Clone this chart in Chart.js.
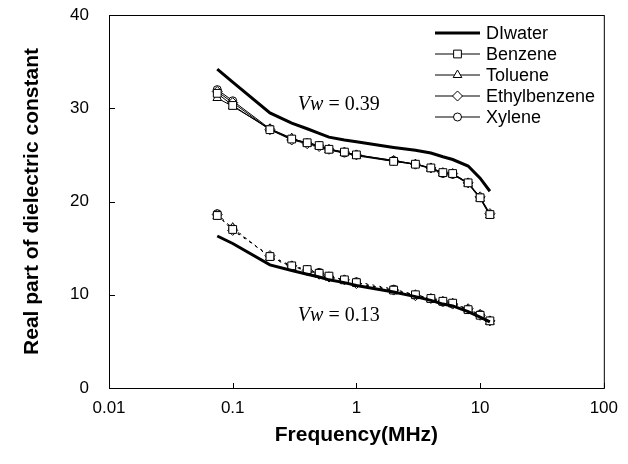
<!DOCTYPE html>
<html>
<head>
<meta charset="utf-8">
<script src="https://cdn.jsdelivr.net/npm/chart.js@4/dist/chart.umd.min.js"></script>
<style>
  body { margin: 0; background: #fff; }
  #wrap { width: 628px; height: 464px; }
</style>
</head>
<body>
<div id="wrap"><canvas id="dielChart" width="628" height="464"></canvas></div>
<script>
// frequency in MHz
const freq = [0.075, 0.1, 0.2, 0.3, 0.4, 0.5, 0.6, 0.8, 1, 2, 3, 4, 5, 6, 8, 10, 12];
const xTicks = [0.01, 0.1, 1, 10, 100];
const yTicks = [0, 10, 20, 30, 40];
const seriesNames = ["DIwater", "Benzene", "Toluene", "Ethylbenzene", "Xylene"];

// Vw = 0.39
const diUpper = [34.2, 32.8, 29.5, 28.4, 27.8, 27.3, 26.9, 26.6, 26.4, 25.8, 25.5, 25.2, 24.8, 24.5, 23.8, 22.5, 21.1];
const benzeneUpper = [31.6, 30.3, 27.7, 26.7, 26.3, 26.0, 25.6, 25.3, 25.0, 24.3, 24.0, 23.6, 23.1, 23.0, 22.0, 20.4, 18.6];
const tolueneUpper = [31.1, 30.2, 27.8, 26.8, 26.2, 25.9, 25.5, 25.2, 24.9, 24.3, 24.0, 23.5, 23.0, 22.9, 21.9, 20.3, 18.5];
const ethylUpper = [31.8, 30.6, 27.7, 26.6, 26.2, 25.9, 25.6, 25.3, 25.0, 24.4, 24.0, 23.6, 23.1, 23.0, 22.0, 20.5, 18.7];
const xyleneUpper = [32.0, 30.8, 27.8, 26.7, 26.3, 26.0, 25.6, 25.2, 25.0, 24.4, 24.0, 23.6, 23.0, 22.9, 22.0, 20.4, 18.6];

// Vw = 0.13
const diLower = [16.3, 15.5, 13.2, 12.6, 12.2, 11.9, 11.6, 11.3, 11.0, 10.3, 9.8, 9.4, 9.0, 8.8, 8.2, 7.6, 7.1];
const benzeneLower = [18.5, 17.0, 14.1, 13.1, 12.7, 12.3, 12.0, 11.6, 11.3, 10.5, 10.0, 9.6, 9.3, 9.1, 8.4, 7.8, 7.2];
const tolueneLower = [18.4, 17.2, 14.0, 13.0, 12.6, 12.3, 11.9, 11.5, 11.3, 10.4, 10.0, 9.5, 9.2, 9.1, 8.4, 7.9, 7.1];
const ethylLower = [18.6, 16.9, 14.2, 13.1, 12.6, 12.2, 11.9, 11.6, 11.2, 10.5, 9.9, 9.6, 9.3, 9.0, 8.5, 7.8, 7.2];
const xyleneLower = [18.7, 17.1, 14.1, 13.0, 12.7, 12.4, 12.0, 11.6, 11.4, 10.6, 10.0, 9.6, 9.2, 9.1, 8.4, 7.9, 7.2];

const markers = [false, "rect", "triangle", "rectRot", "circle"];
const markerSize = [0, 5.5, 5, 5, 4];
const SANS = "'Liberation Sans', Arial, sans-serif";
const SERIF = "'Liberation Serif', 'Times New Roman', serif";

function pts(vals) {
  return freq.map((f, i) => ({ x: f, y: vals[i] }));
}

function makeSet(idx, vals, dashed) {
  const isWater = idx === 0;
  return {
    label: seriesNames[idx],
    data: pts(vals),
    borderColor: "#000",
    borderWidth: isWater ? 3 : 1,
    borderDash: dashed && !isWater ? [2, 5] : [],
    pointStyle: markers[idx],
    pointRadius: isWater ? 0 : markerSize[idx],
    pointBackgroundColor: "#fff",
    pointBorderColor: "#000",
    pointBorderWidth: 1,
    tension: 0,
    fill: false,
  };
}

function drawMarker(ctx, style, r, x, y) {
  ctx.beginPath();
  if (style === "rect") {
    const s = r * Math.SQRT1_2;
    ctx.rect(x - s, y - s, 2 * s, 2 * s);
  } else if (style === "triangle") {
    ctx.moveTo(x, y - r);
    ctx.lineTo(x + r * 0.866, y + r * 0.5);
    ctx.lineTo(x - r * 0.866, y + r * 0.5);
    ctx.closePath();
  } else if (style === "rectRot") {
    ctx.moveTo(x, y - r);
    ctx.lineTo(x + r, y);
    ctx.lineTo(x, y + r);
    ctx.lineTo(x - r, y);
    ctx.closePath();
  } else {
    ctx.arc(x, y, r, 0, Math.PI * 2);
  }
  ctx.fillStyle = "#fff";
  ctx.fill();
  ctx.strokeStyle = "#000";
  ctx.lineWidth = 1;
  ctx.stroke();
}

const framePlugin = {
  id: "frame",
  afterDraw(chart) {
    const ctx = chart.ctx;
    const a = chart.chartArea;
    const xs = chart.scales.x;
    const ys = chart.scales.y;
    ctx.save();
    ctx.strokeStyle = "#000";
    ctx.lineWidth = 1;
    ctx.strokeRect(a.left + 0.5, a.top + 0.5, a.right - a.left, a.bottom - a.top);
    // inward ticks
    ctx.beginPath();
    xTicks.forEach(v => {
      const px = Math.round(xs.getPixelForValue(v)) + 0.5;
      ctx.moveTo(px, a.bottom);
      ctx.lineTo(px, a.bottom - 5);
    });
    yTicks.forEach(v => {
      const py = Math.round(ys.getPixelForValue(v)) + 0.5;
      ctx.moveTo(a.left, py);
      ctx.lineTo(a.left + 6, py);
    });
    ctx.stroke();

    // Vw labels
    const labelX = xs.getPixelForValue(0.72);
    [[30.4, "0.39"], [7.7, "0.13"]].forEach(([yv, txt]) => {
      const py = ys.getPixelForValue(yv);
      ctx.font = "italic 20px " + SERIF;
      const w1 = ctx.measureText("Vw").width;
      ctx.font = "20px " + SERIF;
      const rest = " = " + txt;
      const w2 = ctx.measureText(rest).width;
      const x0 = labelX - (w1 + w2) / 2;
      ctx.fillStyle = "#000";
      ctx.textBaseline = "middle";
      ctx.textAlign = "left";
      ctx.font = "italic 20px " + SERIF;
      ctx.fillText("Vw", x0, py);
      ctx.font = "20px " + SERIF;
      ctx.fillText(rest, x0 + w1, py);
    });

    // legend
    const lx0 = 435, lx1 = 480, tx = 486;
    let ly = 33;
    ctx.font = "18px " + SANS;
    seriesNames.forEach((name, i) => {
      ctx.beginPath();
      ctx.strokeStyle = "#000";
      ctx.lineWidth = i === 0 ? 3 : 1;
      ctx.moveTo(lx0, ly);
      ctx.lineTo(lx1, ly);
      ctx.stroke();
      if (markers[i]) drawMarker(ctx, markers[i], markerSize[i], (lx0 + lx1) / 2, ly);
      ctx.fillStyle = "#000";
      ctx.textBaseline = "middle";
      ctx.textAlign = "left";
      ctx.fillText(name, tx, ly + 1);
      ly += 21;
    });
    ctx.restore();
  },
};

function initChart() {
  const ctx = document.getElementById("dielChart").getContext("2d");
  const upperVals = [diUpper, benzeneUpper, tolueneUpper, ethylUpper, xyleneUpper];
  const lowerVals = [diLower, benzeneLower, tolueneLower, ethylLower, xyleneLower];
  const datasets = [];
  upperVals.forEach((v, i) => datasets.push(makeSet(i, v, false)));
  lowerVals.forEach((v, i) => datasets.push(makeSet(i, v, true)));

  new Chart(ctx, {
    type: "line",
    data: { datasets },
    options: {
      responsive: false,
      animation: false,
      layout: { padding: { left: 0, top: 15, right: 23, bottom: 0 } },
      plugins: {
        legend: { display: false },
        tooltip: { enabled: false },
      },
      scales: {
        x: {
          type: "logarithmic",
          min: 0.01,
          max: 100,
          afterBuildTicks: s => { s.ticks = xTicks.map(v => ({ value: v })); },
          afterFit: s => { s.height = 76; },
          grid: { display: false, drawTicks: false },
          border: { display: false },
          ticks: {
            color: "#000",
            padding: 10,
            maxRotation: 0,
            autoSkip: false,
            font: { family: SANS, size: 17 },
            callback: v => String(v),
          },
          title: {
            display: true,
            text: "Frequency(MHz)",
            color: "#000",
            padding: { top: 0, bottom: 16 },
            font: { family: SANS, size: 21, weight: "bold" },
          },
        },
        y: {
          min: 0,
          max: 40,
          afterBuildTicks: s => { s.ticks = yTicks.map(v => ({ value: v })); },
          afterFit: s => {
            s.width = 109;
            s.paddingTop = 0;
            s.paddingBottom = 0;
          },
          grid: { display: false, drawTicks: false },
          border: { display: false },
          ticks: {
            color: "#000",
            padding: 20,
            font: { family: SANS, size: 17 },
          },
          title: {
            display: true,
            text: "Real part of dielectric constant",
            color: "#000",
            padding: { top: 20, bottom: 0 },
            font: { family: SANS, size: 21, weight: "bold" },
          },
        },
      },
    },
    plugins: [framePlugin],
  });
}

document.addEventListener("DOMContentLoaded", () => {
  initChart();
});
</script>
</body>
</html>
